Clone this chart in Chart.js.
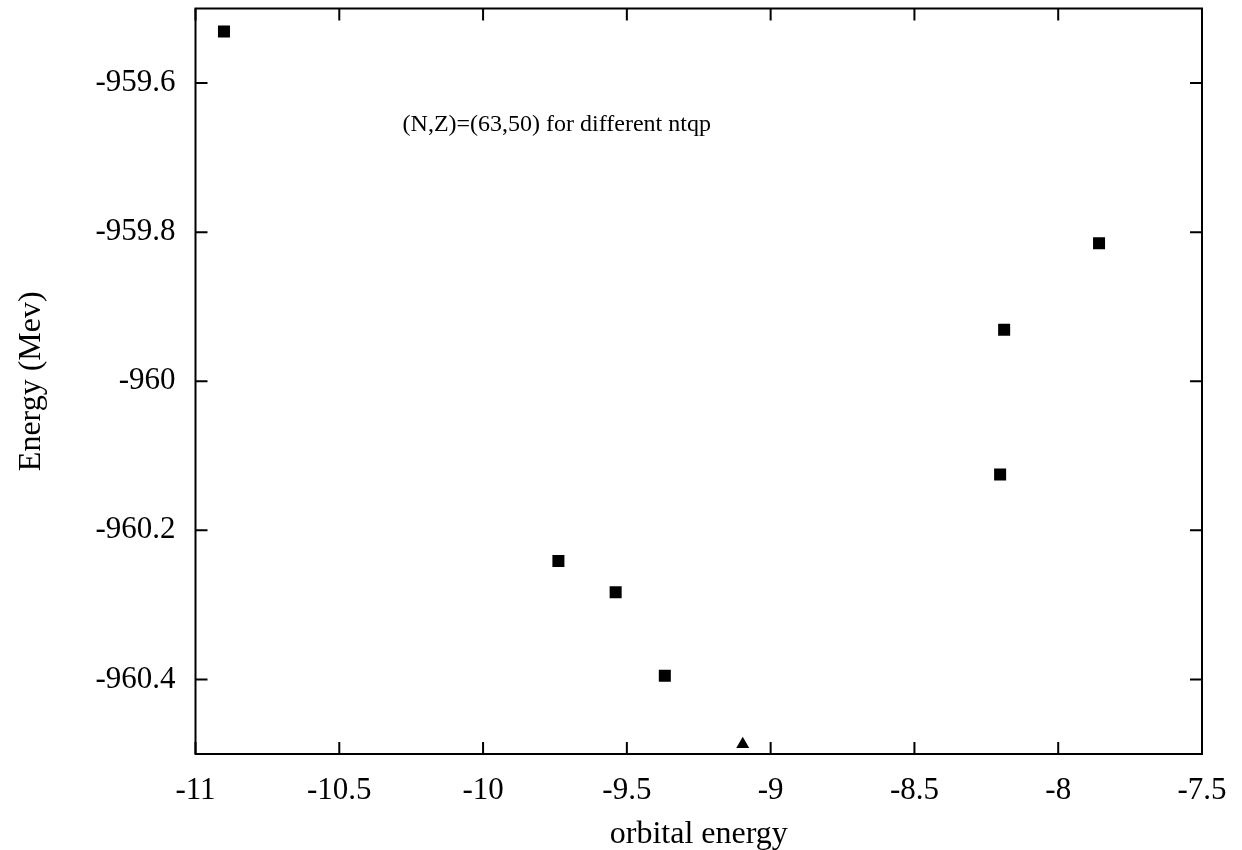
<!DOCTYPE html>
<html>
<head>
<meta charset="utf-8">
<script src="https://cdn.jsdelivr.net/npm/chart.js@4/dist/chart.umd.min.js"></script>
<style>
  html, body { margin: 0; padding: 0; background: #fff; }
  #wrap { width: 1242px; height: 850px; }
</style>
</head>
<body>
<div id="wrap"><canvas id="myChart"></canvas></div>
<script>
// data
var squareX = [-10.901, -9.738, -9.539, -9.368, -8.202, -8.188, -7.858];
var squareY = [-959.531, -960.241, -960.283, -960.395, -960.125, -959.931, -959.815];
var triangleX = [-9.097];
var triangleY = [-960.487];

var xTicks = [-11, -10.5, -10, -9.5, -9, -8.5, -8, -7.5];
var yTicks = [-960.4, -960.2, -960, -959.8, -959.6];
var noteText = "(N,Z)=(63,50) for different ntqp";

var serif = "'Liberation Serif', 'Times New Roman', serif";

function toPoints(xs, ys) {
  return xs.map(function (x, i) { return { x: x, y: ys[i] }; });
}

// frame, inward ticks on all four sides, and the note
var framePlugin = {
  id: "frame",
  afterDraw: function (chart) {
    var ctx = chart.ctx, a = chart.chartArea;
    var xs = chart.scales.x, ys = chart.scales.y;
    ctx.save();
    ctx.strokeStyle = "#000";
    ctx.lineWidth = 2;
    ctx.strokeRect(a.left, a.top, a.right - a.left, a.bottom - a.top);
    ctx.beginPath();
    xTicks.forEach(function (v) {
      var px = xs.getPixelForValue(v);
      ctx.moveTo(px, a.bottom); ctx.lineTo(px, a.bottom - 12);
      ctx.moveTo(px, a.top); ctx.lineTo(px, a.top + 12);
    });
    yTicks.forEach(function (v) {
      var py = ys.getPixelForValue(v);
      ctx.moveTo(a.left, py); ctx.lineTo(a.left + 12, py);
      ctx.moveTo(a.right, py); ctx.lineTo(a.right - 12, py);
    });
    ctx.stroke();
    ctx.fillStyle = "#000";
    ctx.font = "24px " + serif;
    ctx.textAlign = "left";
    ctx.textBaseline = "middle";
    ctx.fillText(noteText, xs.getPixelForValue(-10.28), ys.getPixelForValue(-959.656));
    ctx.restore();
  }
};

var ctx = document.getElementById("myChart").getContext("2d");
var myChart = new Chart(ctx, {
  type: "scatter",
  data: {
    datasets: [
      {
        label: "squares",
        data: toPoints(squareX, squareY),
        pointStyle: "rect",
        radius: 8.5,
        backgroundColor: "#000",
        borderColor: "#000",
        borderWidth: 0
      },
      {
        label: "triangles",
        data: toPoints(triangleX, triangleY),
        pointStyle: "triangle",
        radius: 7.5,
        backgroundColor: "#000",
        borderColor: "#000",
        borderWidth: 0
      }
    ]
  },
  options: {
    responsive: true,
    maintainAspectRatio: false,
    animation: false,
    layout: { padding: { left: 0, right: 40, top: 5, bottom: 0 } },
    plugins: {
      legend: { display: false },
      tooltip: { enabled: false }
    },
    scales: {
      x: {
        type: "linear",
        min: -11,
        max: -7.5,
        afterBuildTicks: function (scale) {
          scale.ticks = xTicks.map(function (v) { return { value: v }; });
        },
        afterFit: function (scale) {
          scale.height = 96;
          scale.paddingLeft = 0;
          scale.paddingRight = 0;
        },
        grid: { display: false, drawTicks: false },
        border: { display: false },
        ticks: {
          color: "#000",
          padding: 18,
          maxRotation: 0,
          autoSkip: false,
          font: { family: serif, size: 31 },
          callback: function (v) { return String(v); }
        },
        title: {
          display: true,
          text: "orbital energy",
          color: "#000",
          font: { family: serif, size: 32 },
          padding: { top: 0, bottom: -4 }
        }
      },
      y: {
        type: "linear",
        min: -960.5,
        max: -959.5,
        afterBuildTicks: function (scale) {
          scale.ticks = yTicks.map(function (v) { return { value: v }; });
        },
        afterFit: function (scale) {
          scale.width = 195.5;
          scale.paddingTop = 0;
          scale.paddingBottom = 0;
        },
        grid: { display: false, drawTicks: false },
        border: { display: false },
        ticks: {
          color: "#000",
          padding: 20,
          autoSkip: false,
          font: { family: serif, size: 31 },
          callback: function (v) { return String(v); }
        },
        title: {
          display: true,
          text: "Energy (Mev)",
          color: "#000",
          font: { family: serif, size: 32 },
          padding: { top: 12, bottom: 0 }
        }
      }
    }
  },
  plugins: [framePlugin]
});
</script>
</body>
</html>
